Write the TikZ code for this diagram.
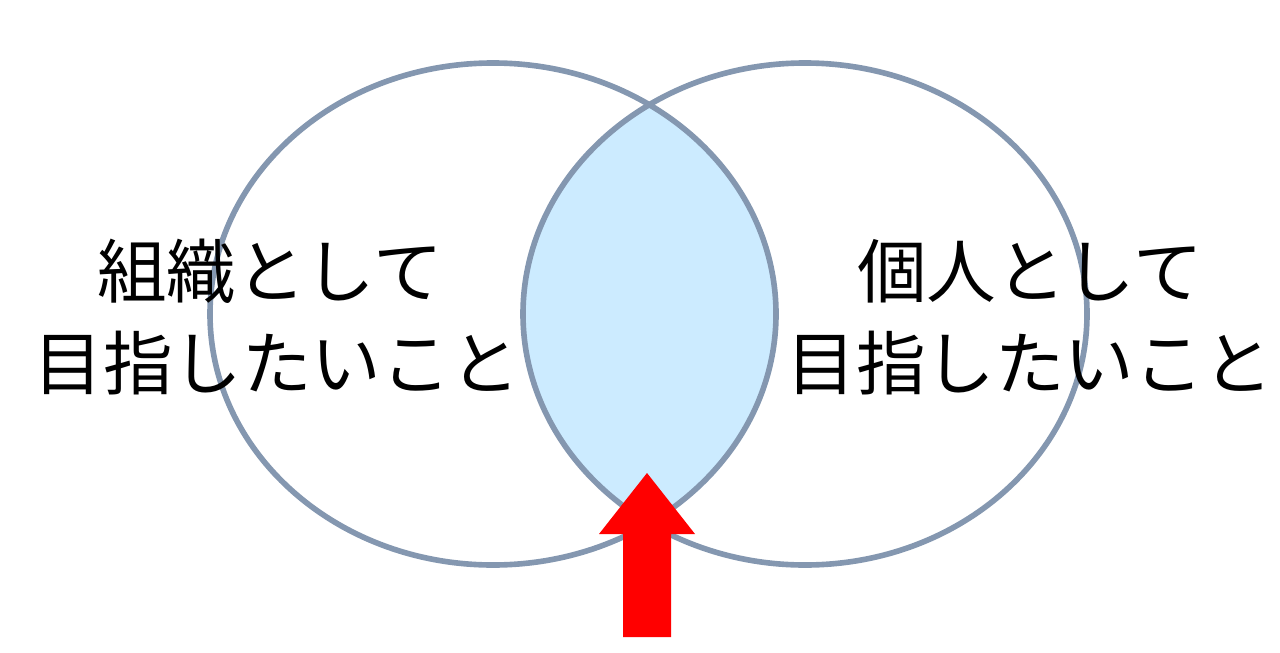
\documentclass[tikz,border=0pt]{standalone}
\usepackage{fontspec}
\newfontfamily\jp{Noto Sans CJK JP}
\definecolor{ringc}{HTML}{8497B0}
\definecolor{lensc}{HTML}{CCEBFF}
\definecolor{arrowc}{HTML}{FF0000}
\begin{document}
\begin{tikzpicture}[x=0.02cm,y=-0.02cm,
  ring/.style={draw=ringc,line width=3.2pt},
  label/.style={font=\jp\fontsize{39.6pt}{46pt}\selectfont,anchor=base,inner sep=0pt}]
\useasboundingbox (0,0) rectangle (1280,652);
\begin{scope}
  \clip (493,314) ellipse [x radius=283,y radius=251];
  \fill[lensc] (805,314) ellipse [x radius=282,y radius=251];
\end{scope}
\draw[ring] (493,314) ellipse [x radius=283,y radius=251];
\draw[ring] (805,314) ellipse [x radius=282,y radius=251];
\node[label] (l1) at (270,297) {組織として};
\node[label] (l2) at (277,389) {目指したいこと};
\node[label] (r1) at (1030,297) {個人として};
\node[label] (r2) at (1030,389) {目指したいこと};
\fill[arrowc] (623,637) -- (623,534) -- (599,534) -- (647,473) -- (695,534) -- (671,534) -- (671,637) -- cycle;
\end{tikzpicture}
\end{document}
